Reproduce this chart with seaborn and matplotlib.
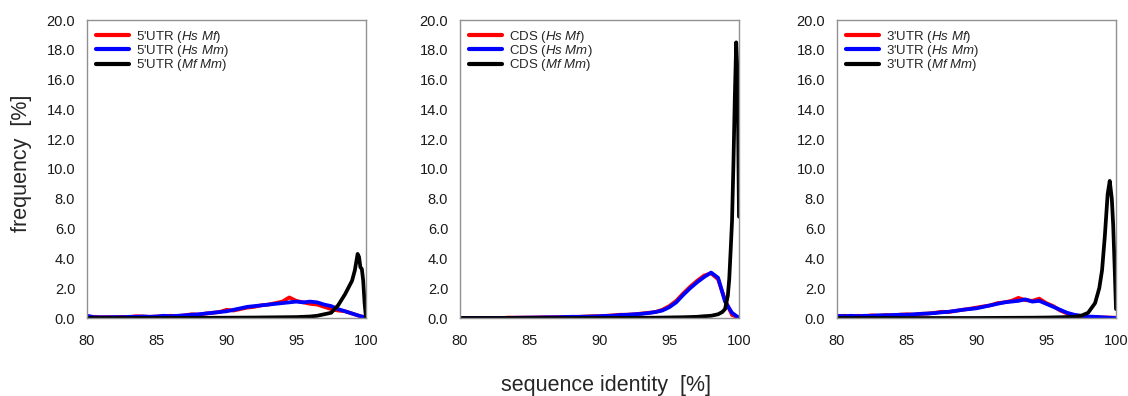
import numpy as np
import pandas as pd
import matplotlib
matplotlib.use("Agg")
import matplotlib.pyplot as plt
import seaborn as sns

# ---------------- data ----------------
x_half = [80 + 0.5 * i for i in range(41)]

utr5_hs_mf = [0.10, 0.08, 0.05, 0.06, 0.05, 0.08, 0.06, 0.12, 0.10, 0.08,
              0.10, 0.12, 0.15, 0.12, 0.18, 0.25, 0.22, 0.30, 0.35, 0.40,
              0.55, 0.50, 0.60, 0.70, 0.75, 0.85, 0.90, 1.00, 1.10, 1.38,
              1.15, 1.05, 0.95, 0.90, 0.75, 0.60, 0.50, 0.45, 0.30, 0.15, 0.02]
utr5_hs_mm = [0.15, 0.05, 0.05, 0.05, 0.06, 0.05, 0.08, 0.08, 0.10, 0.08,
              0.10, 0.15, 0.12, 0.15, 0.18, 0.22, 0.25, 0.30, 0.35, 0.40,
              0.45, 0.55, 0.65, 0.75, 0.80, 0.85, 0.90, 0.95, 1.00, 1.05,
              1.10, 1.05, 1.10, 1.05, 0.90, 0.80, 0.60, 0.45, 0.30, 0.15, 0.02]
utr5_mf_mm_x = [80, 85, 90, 92, 94, 95, 96, 96.5, 97, 97.5, 98, 98.5, 99,
                99.2, 99.4, 99.5, 99.6, 99.7, 99.8, 99.9, 100]
utr5_mf_mm = [0.0, 0.0, 0.02, 0.03, 0.05, 0.06, 0.10, 0.15, 0.25, 0.35, 0.85,
              1.6, 2.5, 3.2, 4.3, 4.1, 3.4, 3.3, 2.5, 1.0, 0.0]

cds_hs_mf = [0.0, 0.0, 0.0, 0.0, 0.0, 0.0, 0.0, 0.03, 0.02, 0.03,
             0.03, 0.04, 0.05, 0.05, 0.06, 0.07, 0.08, 0.08, 0.10, 0.12,
             0.12, 0.15, 0.18, 0.22, 0.22, 0.25, 0.30, 0.35, 0.40, 0.55,
             0.80, 1.15, 1.65, 2.10, 2.50, 2.85, 3.00, 2.60, 1.20, 0.20, 0.02]
cds_hs_mm = [0.0, 0.0, 0.0, 0.0, 0.0, 0.0, 0.0, 0.0, 0.02, 0.02,
             0.03, 0.03, 0.04, 0.05, 0.05, 0.07, 0.08, 0.08, 0.09, 0.10,
             0.12, 0.14, 0.16, 0.20, 0.22, 0.25, 0.28, 0.33, 0.40, 0.50,
             0.72, 1.05, 1.55, 2.00, 2.40, 2.75, 3.05, 2.70, 1.10, 0.35, 0.0]
cds_mf_mm_x = [80, 85, 90, 94, 96, 97, 97.5, 98, 98.5, 98.8, 99.0, 99.2,
               99.3, 99.4, 99.5, 99.6, 99.7, 99.8, 99.9, 100]
cds_mf_mm = [0.0, 0.0, 0.0, 0.02, 0.05, 0.08, 0.12, 0.15, 0.25, 0.4, 0.6,
             1.5, 2.6, 4.5, 6.5, 10.3, 14.8, 18.5, 16.3, 6.8]

utr3_hs_mf = [0.12, 0.15, 0.12, 0.15, 0.12, 0.18, 0.15, 0.20, 0.18, 0.22,
              0.25, 0.22, 0.28, 0.30, 0.35, 0.42, 0.40, 0.48, 0.55, 0.62,
              0.70, 0.78, 0.85, 1.00, 1.05, 1.15, 1.35, 1.20, 1.15, 1.30,
              1.00, 0.80, 0.50, 0.30, 0.18, 0.08, 0.05, 0.05, 0.04, 0.03, 0.02]
utr3_hs_mm = [0.15, 0.12, 0.15, 0.12, 0.15, 0.15, 0.18, 0.18, 0.20, 0.22,
              0.22, 0.25, 0.28, 0.30, 0.33, 0.38, 0.42, 0.48, 0.55, 0.60,
              0.65, 0.75, 0.85, 0.95, 1.05, 1.10, 1.15, 1.25, 1.10, 1.15,
              0.95, 0.75, 0.55, 0.35, 0.22, 0.15, 0.10, 0.08, 0.05, 0.02, 0.0]
utr3_mf_mm_x = [80, 90, 94, 95, 96, 97, 97.5, 98, 98.5, 98.8, 99.0, 99.2,
                99.4, 99.55, 99.7, 99.8, 99.9, 100]
utr3_mf_mm = [0.0, 0.0, 0.02, 0.03, 0.05, 0.08, 0.15, 0.35, 1.0, 2.0, 3.2,
              5.5, 8.3, 9.2, 8.0, 6.2, 3.5, 0.6]

regions = ["5'UTR", "CDS", "3'UTR"]
pairs = [r"$\mathit{Hs\ Mf}$", r"$\mathit{Hs\ Mm}$", r"$\mathit{Mf\ Mm}$"]
colors = ["#ff0000", "#0000ff", "#000000"]
x_ticks = [80, 85, 90, 95, 100]
y_ticks = [0, 2, 4, 6, 8, 10, 12, 14, 16, 18, 20]

panels = [
    [(x_half, utr5_hs_mf), (x_half, utr5_hs_mm), (utr5_mf_mm_x, utr5_mf_mm)],
    [(x_half, cds_hs_mf), (x_half, cds_hs_mm), (cds_mf_mm_x, cds_mf_mm)],
    [(x_half, utr3_hs_mf), (x_half, utr3_hs_mm), (utr3_mf_mm_x, utr3_mf_mm)],
]

# ---------------- style ----------------
sns.set_style("white")
plt.rcParams["font.family"] = ["Liberation Sans", "DejaVu Sans"]
plt.rcParams["mathtext.fontset"] = "custom"
plt.rcParams["mathtext.rm"] = "Liberation Sans"
plt.rcParams["mathtext.it"] = "Liberation Sans:italic"

W, H = 1128, 396
fig = plt.figure(figsize=(W / 100, H / 100), dpi=100)
lefts = [87, 460, 837]
ax_w = 279
top_px, bot_px = 20, 318

for i, (region, series) in enumerate(zip(regions, panels)):
    ax = fig.add_axes([lefts[i] / W, 1 - bot_px / H, ax_w / W, (bot_px - top_px) / H])
    for (xs, ys), pair, col in zip(series, pairs, colors):
        df = pd.DataFrame({"identity": xs, "frequency": ys})
        sns.lineplot(data=df, x="identity", y="frequency", ax=ax, color=col,
                     linewidth=2.7, label=f"{region} ({pair})")
    ax.set_xlim(80, 100)
    ax.set_ylim(0, 20)
    ax.set_xticks(x_ticks)
    ax.set_yticks(y_ticks)
    ax.set_yticklabels([f"{v:.1f}" for v in y_ticks])
    ax.set_xlabel("")
    ax.set_ylabel("")
    for sp in ax.spines.values():
        sp.set_visible(True)
        sp.set_color("#919191")
        sp.set_linewidth(1.0)
    ax.tick_params(axis="both", direction="out", length=3, width=0.8,
                   color="#919191", labelsize=10.5, labelcolor="#1a1a1a")
    ax.tick_params(axis="x", pad=8.5)
    ax.tick_params(axis="y", pad=5.5)
    leg = ax.legend(loc="upper left", frameon=False, fontsize=9.5,
                    handlelength=2.5, handletextpad=0.55, labelspacing=-0.12,
                    borderaxespad=0.25, borderpad=0.4,
                    bbox_to_anchor=(0.0, 1.0))
    for h in leg.legend_handles:
        h.set_linewidth(3.0)

fig.text(22 / W, 1 - 163 / H, "frequency  [%]", rotation=90, ha="center",
         va="center", fontsize=15.5)
fig.text(606 / W, 1 - 385 / H, "sequence identity  [%]", ha="center",
         va="center", fontsize=15.5)

fig.savefig("out.png", dpi=100)
